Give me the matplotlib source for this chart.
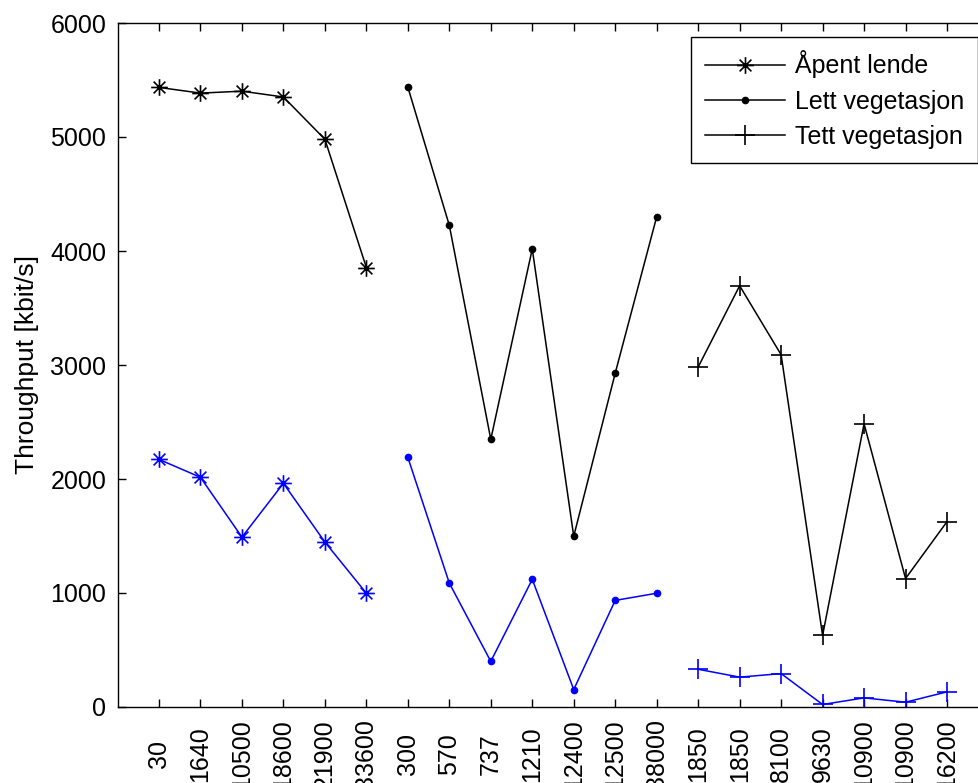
import matplotlib
matplotlib.use("Agg")
import matplotlib.pyplot as plt
from matplotlib.path import Path

plt.rcParams['font.family'] = ['Liberation Sans', 'DejaVu Sans']

tick_labels = ["30", "1640", "10500", "18600", "21900", "33600",
               "300", "570", "737", "1210", "12400", "12500", "38000",
               "1850", "1850", "8100", "9630", "10900", "10900", "16200"]

apent_x = [1, 2, 3, 4, 5, 6]
apent_black = [5435, 5385, 5402, 5351, 4980, 3855]
apent_blue = [2172, 2015, 1490, 1962, 1447, 998]

lett_x = [7, 8, 9, 10, 11, 12, 13]
lett_black = [5438, 4225, 2348, 4018, 1498, 2928, 4300]
lett_blue = [2190, 1087, 400, 1120, 153, 935, 998]

tett_x = [14, 15, 16, 17, 18, 19, 20]
tett_black = [2982, 3695, 3090, 628, 2484, 1127, 1626]
tett_blue = [331, 262, 293, 22, 80, 42, 133]

legend_labels = ["Åpent lende", "Lett vegetasjon", "Tett vegetasjon"]

# MATLAB-style asterisk marker (plus + x)
d = 0.7071
star = Path([(-1, 0), (1, 0), (0, -1), (0, 1),
             (-d, -d), (d, d), (-d, d), (d, -d)],
            [Path.MOVETO, Path.LINETO, Path.MOVETO, Path.LINETO,
             Path.MOVETO, Path.LINETO, Path.MOVETO, Path.LINETO])

fig = plt.figure(figsize=(9.79, 7.83), dpi=100)
ax = fig.add_axes([117.5 / 979, 1 - 707 / 783, 871 / 979, 684 / 783])

lw = 1.1
h1, = ax.plot(apent_x, apent_black, color='k', lw=lw, marker=star, ms=12, mew=1.2)
ax.plot(apent_x, apent_blue, color='#0000ff', lw=lw, marker=star, ms=12, mew=1.2)
h2, = ax.plot(lett_x, lett_black, color='k', lw=lw, marker='.', ms=9)
ax.plot(lett_x, lett_blue, color='#0000ff', lw=lw, marker='.', ms=9)
h3, = ax.plot(tett_x, tett_black, color='k', lw=lw, marker='+', ms=14, mew=1.2)
ax.plot(tett_x, tett_blue, color='#0000ff', lw=lw, marker='+', ms=14, mew=1.2)

ax.set_xlim(0, 21)
ax.set_ylim(0, 6000)
ax.set_yticks(range(0, 6001, 1000))
ax.set_xticks(range(1, 21))
ax.set_xticklabels(tick_labels, rotation=90)
ax.tick_params(direction='in', length=5.8, width=1, top=True, right=True,
               labelsize=18, colors='k')
ax.tick_params(axis='x', pad=34)
for lab in ax.get_xticklabels():
    lab.set_va('center')
ax.tick_params(axis='y', pad=8)
for sp in ax.spines.values():
    sp.set_linewidth(1.0)

ax.set_ylabel("Throughput [kbit/s]", fontsize=19, labelpad=8)

leg = ax.legend([h1, h2, h3], legend_labels, loc='upper right',
                bbox_to_anchor=(978 / 979, 1 - 36.5 / 783), bbox_transform=fig.transFigure,
                fontsize=18, frameon=True, fancybox=False, framealpha=1,
                edgecolor='k', handlelength=3.2, borderpad=0.55, labelspacing=0.45,
                handletextpad=0.4, borderaxespad=0)
leg.get_frame().set_linewidth(1.0)

fig.savefig("out.png", dpi=100)
